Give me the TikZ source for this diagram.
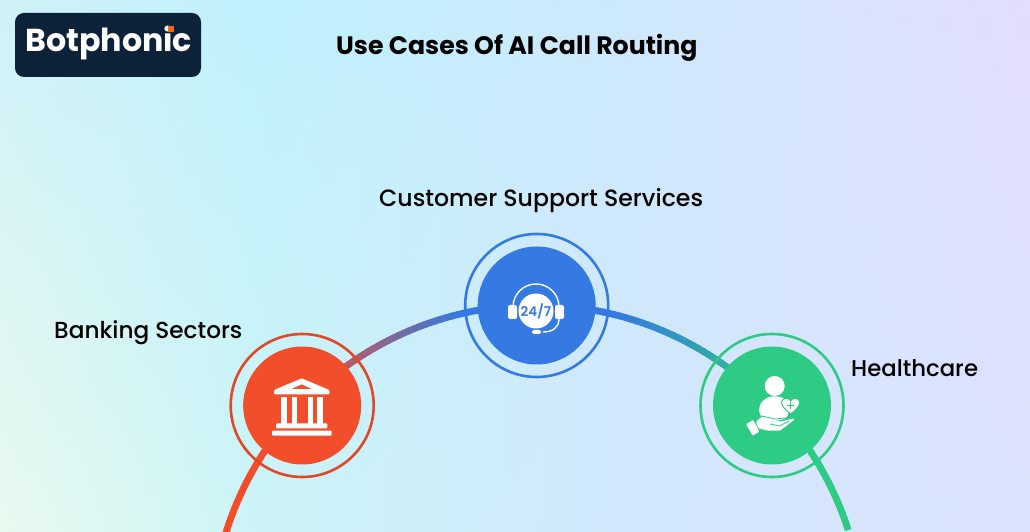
\documentclass[tikz,border=0pt]{standalone}
\usepackage{fontspec}
\setmainfont{Poppins}
\newfontfamily\medfont{Poppins Medium}
\newfontfamily\semifont{Poppins SemiBold}
\usetikzlibrary{calc}
\definecolor{redc}{HTML}{F34E2B}
\definecolor{bluec}{HTML}{3579E2}
\definecolor{greenc}{HTML}{2ECB85}
\definecolor{navy}{HTML}{0B2239}
\definecolor{dotc}{HTML}{F26A1B}
\tikzset{
 disc/.style={circle,minimum size=118pt,inner sep=0pt,fill=#1},
 halo/.style={circle,minimum size=143pt,inner sep=0pt,draw=#1,line width=2.6pt,fill=none},
 lab/.style={anchor=base west,inner sep=0pt,text=black},
 glyph/.style={fill=white,draw=none}
}
\begin{document}
\begin{tikzpicture}[x=1pt,y=1pt]
\useasboundingbox (0,0) rectangle (1030,532);
% background: vertical strips, each a 3-stop gradient
\foreach \xa/\xb/\ta/\tb/\ma/\mb/\ba/\bb in {
 0/260/D0F1F8/BFF1FC/DDF6F5/C0F2FB/E9F9EF/CCF4F7,
 260/620/BFF1FC/CDE9FC/C0F2FB/CFE8FC/CCF4F7/D2E8FC,
 620/1030/CDE9FC/E2DEFD/CFE8FC/DAE2FD/D2E8FC/DBE3FD}{
  \definecolor{ta}{HTML}{\ta}\definecolor{tb}{HTML}{\tb}
  \definecolor{ma}{HTML}{\ma}\definecolor{mb}{HTML}{\mb}
  \definecolor{ba}{HTML}{\ba}\definecolor{bb}{HTML}{\bb}
  \pgfmathsetmacro{\nn}{int((\xb-\xa)/10)}
  \foreach \k in {1,...,\nn}{
    \pgfmathsetmacro{\pp}{100*(\k-0.5)/\nn}
    \pgfmathsetmacro{\xl}{\xa+(\k-1)*10}
    \colorlet{ct}{tb!\pp!ta}\colorlet{cm}{mb!\pp!ma}\colorlet{cb}{bb!\pp!ba}
    \shade[top color=ct,middle color=cm,bottom color=cb,draw=none]
      (\xl,0) rectangle (\xl+10.6,532);
  }
}
\coordinate (hub) at (536,-98);
\coordinate (hubr) at (539,-98);
% arc in coloured steps
\begin{scope}
\clip (0,0) rectangle (1030,532);
\foreach \ang in {164,163,...,19}{
  \pgfmathsetmacro{\tt}{\ang<=136?(\ang>=104?100*(136-\ang)/32:100):0}
  \pgfmathsetmacro{\uu}{\ang<76?(\ang>=44?100*(76-\ang)/32:100):0}
  \ifdim\ang pt>90pt \colorlet{seg}{bluec!\tt!redc}\else\colorlet{seg}{greenc!\uu!bluec}\fi
  \ifdim\ang pt>44pt
    \draw[seg,line width=6.8pt] ($(hub)+(\ang+0.1:325)$) arc[start angle=\ang+0.1,end angle=\ang-1.1,radius=325];
  \else
    \draw[seg,line width=6.8pt] ($(hubr)+(\ang+0.1:325)$) arc[start angle=\ang+0.1,end angle=\ang-1.1,radius=325];
  \fi
}
\end{scope}
% discs
\node[disc=redc] (bank) at (302.2,126.5) {};
\node[halo=redc!92!black] (bankring) at (302.2,126.5) {};
\node[disc=bluec] (support) at (536.7,226.5) {};
\node[halo=bluec] (supportring) at (536.7,226.5) {};
\node[disc=greenc] (health) at (772,126.5) {};
\node[halo=greenc] (healthring) at (772,126.5) {};
% labels
\node[lab,font=\fontsize{23.6}{23.6}\medfont] (l1) at (379,325) {Customer Support Services};
\node[lab,font=\fontsize{23.2}{23.2}\medfont] (l2) at (54,193) {Banking Sectors};
\node[lab,font=\fontsize{22.8}{22.8}\medfont] (l3) at (851,155) {Healthcare};
% logo
\node[draw=none,fill=navy,rounded corners=9pt,minimum width=186pt,minimum height=64pt,inner sep=0pt] (logo) at (108,487) {};
\node[anchor=base west,inner sep=0pt,text=white,font=\fontsize{31.7}{31.7}\selectfont\bfseries] (logotext) at (25,480) {Botphonic};
\node[fill=dotc,minimum size=6.5pt,inner sep=0pt] (logodot) at (170.8,503) {};
% title
\node[anchor=base west,inner sep=0pt,text=black,font=\fontsize{25.2}{25.2}\selectfont\bfseries] (title) at (336,477) {Use Cases Of AI Call Routing};
% bank icon
\begin{scope}[shift={(bank.center)},shift={(-302.2,-126.5)}]
 \fill[glyph,rounded corners=1pt] (301.7,153.7) -- (329.3,142) -- (329.3,137.5) -- (274,137.5) -- (274,142) -- cycle;
 \fill[redc] (301.7,147.5) -- (311.5,143) -- (291.5,143) -- cycle;
 \foreach \cx in {284.2,294.5,310.3,320}{\fill[glyph] (\cx-2.8,135) rectangle (\cx+2.8,108);}
 \fill[glyph,rounded corners=1pt] (276,103.7) rectangle (327.3,108.7);
 \fill[glyph,rounded corners=1pt] (272,96.3) rectangle (331.7,101.3);
\end{scope}
% headset icon
\begin{scope}[shift={(support.center)},shift={(-536.7,-226.5)}]
 \fill[glyph] (536,221) circle[radius=17.5];
 \draw[white,line width=1.4pt] (513,225) arc[start angle=180,end angle=0,radius=23];
 \fill[glyph,rounded corners=2pt] (508,213) rectangle (517,227);
 \fill[glyph,rounded corners=2pt] (555,213) rectangle (564,227);
 \draw[white,line width=1.4pt] (559,213) .. controls (559,204) and (552,200) .. (543,200);
 \fill[glyph,rounded corners=1.5pt] (532,198) rectangle (541,202);
 \node[inner sep=0pt,text=bluec,font=\fontsize{13.5}{13.5}\semifont] (hrs) at (536,221) {24/7};
\end{scope}
% care icon
\begin{scope}[shift={(health.center)},shift={(-772,-126.5)}]
 \fill[glyph] (774.7,146) circle[radius=10];
 \fill[glyph,rounded corners=4pt] (759.5,128) -- (768,135.5) -- (781,135.5) -- (786,132) -- (789,116) -- (780,111) -- (765,113.5) -- (759,117) -- cycle;
 \fill[glyph,draw=greenc,line width=1pt] (790.7,118) .. controls (784,123) and (781,127) .. (781.7,130.5) .. controls (783,134.5) and (788.5,135) .. (790.7,131) .. controls (793,135) and (798.5,134.5) .. (799.7,130.5) .. controls (800.4,127) and (797.4,123) .. (790.7,118) -- cycle;
 \draw[greenc,line width=1.2pt] (790.7,122.5)--(790.7,130) (787,126.2)--(794.4,126.2);
 \fill[glyph,rounded corners=0.8pt] (746,108) -- (753.3,112) -- (759.3,100.3) -- (752.7,96.3) -- cycle;
 \fill[glyph,rounded corners=1pt] (756,110.3) -- (761.7,115.3) -- (775,112) -- (780,110.3) -- (794,113.7) -- (794,112) -- (780,101.3) -- (768.3,101.3) -- (758.3,103.7) -- cycle;
 \draw[greenc,line width=0.8pt] (761.7,116) -- (775,113) -- (785,114);
 \draw[greenc,line width=0.8pt] (770,108) -- (779.3,106) -- (789,111);
\end{scope}
\end{tikzpicture}
\end{document}
